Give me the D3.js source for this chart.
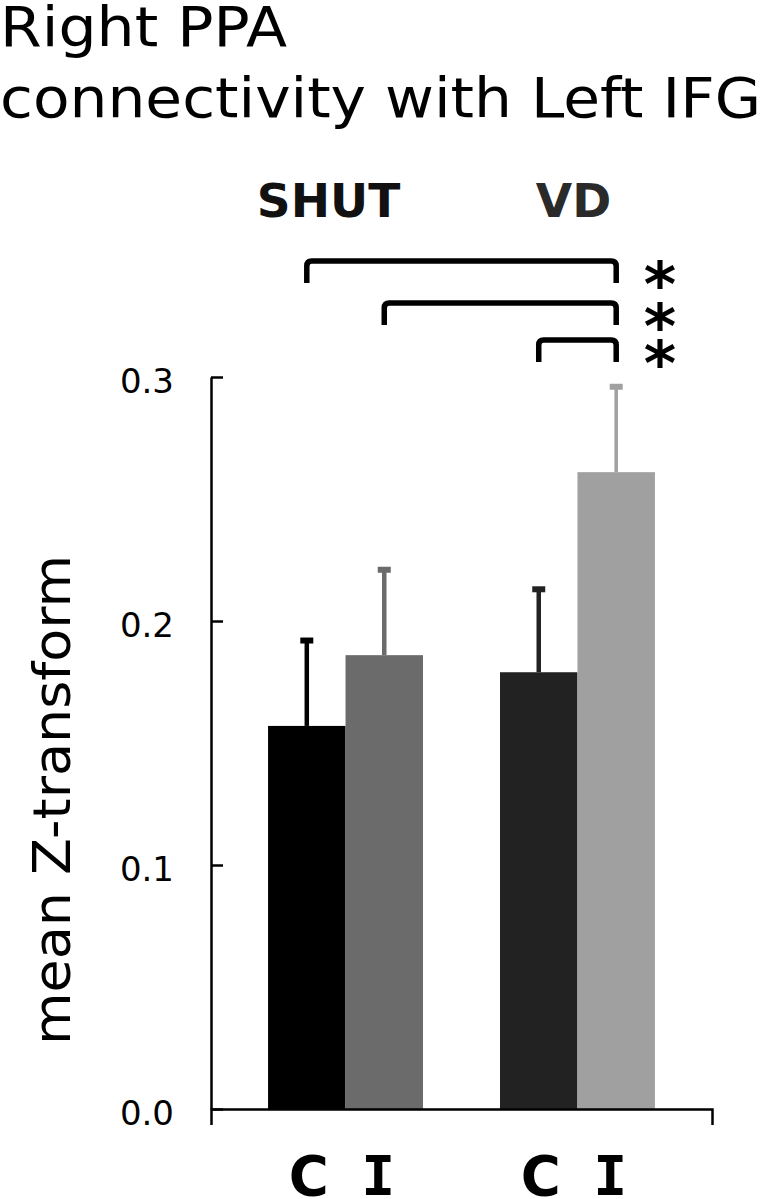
<!DOCTYPE html>
<html><head><meta charset="utf-8">
<script src="https://cdn.jsdelivr.net/npm/d3@7"></script>
<style>body{margin:0;background:#fff}svg{display:block}</style>
</head><body>
<svg id="chart" width="763" height="1199"></svg>
<script>
// ---- data ----
const titleLines = ["Right PPA", "connectivity with Left IFG"];
const yLabel = "mean Z-transform";
const groups = ["SHUT", "VD"];
const conditions = ["C", "I"];
const meanValues = [0.157, 0.186, 0.179, 0.261];   // SHUT-C, SHUT-I, VD-C, VD-I
const errorValues = [0.035, 0.035, 0.034, 0.035];
const yTicks = [0.0, 0.1, 0.2, 0.3];
const yTickLabels = ["0.0", "0.1", "0.2", "0.3"];
const comparisons = [["SHUT", "C", "VD", "I"], ["SHUT", "I", "VD", "I"], ["VD", "C", "VD", "I"]];
const sigLabels = ["*", "*", "*"];
const barColors = ["#000000", "#6b6b6b", "#222222", "#a0a0a0"];

const bars = [];
groups.forEach((g, gi) => conditions.forEach((c, ci) => {
  const i = gi * conditions.length + ci;
  bars.push({group: g, cond: c, value: meanValues[i], err: errorValues[i], color: barColors[i]});
}));

const svg = d3.select("#chart");
const y = d3.scaleLinear().domain([0, 0.3]).range([1109, 377]);
const x0 = d3.scaleBand().domain(groups).range([211, 712]).paddingInner(0.332).paddingOuter(0.246);
const x1 = d3.scaleBand().domain(conditions).range([0, x0.bandwidth()]);
const cx = (g, c) => x0(g) + x1(c) + x1.bandwidth() / 2;

// title
svg.selectAll("text.title").data(titleLines).join("text")
  .attr("class", "title")
  .attr("x", 0).attr("y", (d, i) => [46, 117][i])
  .attr("font-family", "DejaVu Sans").attr("font-size", 55)
  .attr("textLength", (d, i) => [287, 761][i])
  .attr("lengthAdjust", "spacingAndGlyphs")
  .text(d => d);

// y label
svg.append("text")
  .attr("transform", "translate(70,800) rotate(-90)")
  .attr("text-anchor", "middle")
  .attr("font-family", "DejaVu Sans").attr("font-size", 52)
  .attr("textLength", 490).attr("lengthAdjust", "spacingAndGlyphs")
  .text(yLabel);

// bars
svg.append("g").selectAll("rect").data(bars).join("rect")
  .attr("x", d => x0(d.group) + x1(d.cond))
  .attr("width", x1.bandwidth())
  .attr("y", d => y(d.value))
  .attr("height", d => y(0) - y(d.value))
  .attr("fill", d => d.color);

// error bars
const eg = svg.append("g");
eg.selectAll("line").data(bars).join("line")
  .attr("x1", d => cx(d.group, d.cond)).attr("x2", d => cx(d.group, d.cond))
  .attr("y1", d => y(d.value)).attr("y2", d => y(d.value + d.err))
  .attr("stroke", d => d.color).attr("stroke-width", (d, i) => i === 3 ? 3.5 : 4.5);
eg.selectAll("rect").data(bars).join("rect")
  .attr("x", d => cx(d.group, d.cond) - 6.5).attr("width", 13)
  .attr("y", d => y(d.value + d.err) - 3).attr("height", 6)
  .attr("fill", d => d.color);

// y axis
const yAxis = svg.append("g").attr("transform", "translate(211,0)")
  .call(d3.axisLeft(y).tickValues(yTicks).tickFormat((d, i) => yTickLabels[i])
    .tickSize(-12).tickSizeOuter(0).tickPadding(37));
yAxis.selectAll("path,line").attr("stroke", "#000").attr("stroke-width", 2.5);
yAxis.selectAll("text").attr("font-family", "DejaVu Sans").attr("font-size", 34)
  .attr("fill", "#000").attr("dy", "0.45em");

// x axis
const xAxis = svg.append("g").attr("transform", "translate(0,1109)")
  .call(d3.axisBottom(x0).tickValues([]).tickSizeOuter(16));
xAxis.selectAll("path").attr("stroke", "#000").attr("stroke-width", 2.5);

// condition labels (one per bar)
const condStyle = {
  C: {font: "DejaVu Sans", dx: 2, len: 40},
  I: {font: "DejaVu Sans Mono", dx: -6, len: 34}
};
svg.selectAll("text.cond").data(bars).join("text")
  .attr("class", "cond")
  .attr("x", d => cx(d.group, d.cond) + condStyle[d.cond].dx)
  .attr("y", 1195)
  .attr("text-anchor", "middle")
  .attr("font-family", d => condStyle[d.cond].font)
  .attr("font-weight", "bold").attr("font-size", 56)
  .attr("textLength", d => condStyle[d.cond].len).attr("lengthAdjust", "spacingAndGlyphs")
  .text(d => d.cond);

// group labels
svg.selectAll("text.grp").data(groups).join("text")
  .attr("class", "grp")
  .attr("x", (g, i) => x0(g) + x0.bandwidth() / 2 + [-17, -4][i])
  .attr("y", 217)
  .attr("text-anchor", "middle")
  .attr("font-family", "DejaVu Sans").attr("font-weight", "bold").attr("font-size", 47)
  .attr("fill", (g, i) => ["#111", "#2a2a2a"][i])
  .text(d => d);

// significance brackets
const bracketTops = [261, 303, 340];
const bh = 22, r = 5;
const bg = svg.append("g");
bg.selectAll("path").data(comparisons).join("path")
  .attr("d", (d, i) => {
    const xa = cx(d[0], d[1]), xb = cx(d[2], d[3]), t = bracketTops[i], b = t + bh;
    return `M${xa},${b}V${t + r}Q${xa},${t} ${xa + r},${t}H${xb - r}Q${xb},${t} ${xb},${t + r}V${b}`;
  })
  .attr("fill", "none").attr("stroke", "#000").attr("stroke-width", 5.5)
  .attr("stroke-linecap", "butt");
const sig = bg.append("text")
  .attr("text-anchor", "middle")
  .attr("font-family", "DejaVu Sans").attr("font-weight", "bold").attr("font-size", 62);
sig.selectAll("tspan").data(sigLabels).join("tspan")
  .attr("x", 660).attr("y", (d, i) => bracketTops[i] + 11)
  .attr("dy", "0.55em")
  .text(d => d);
</script>
</body></html>
